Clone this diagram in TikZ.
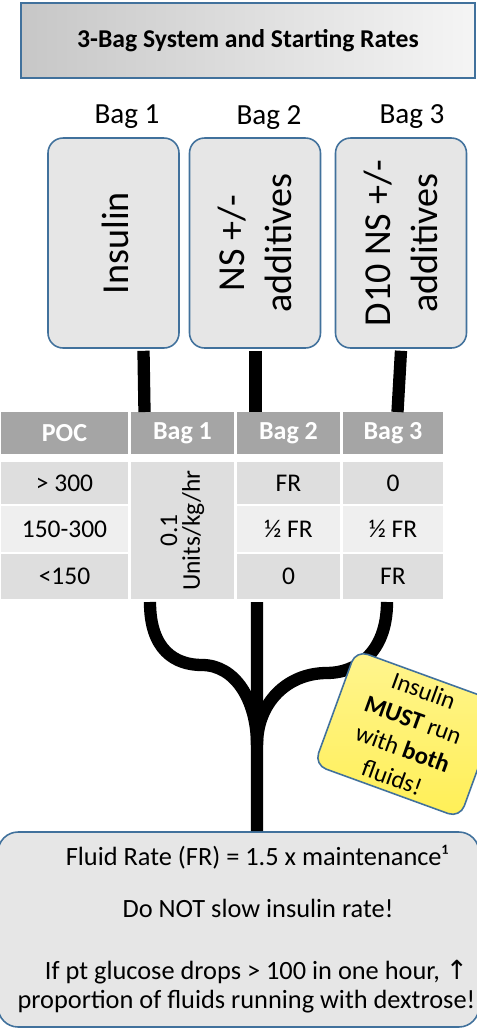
\documentclass[tikz,border=0pt]{standalone}
\usepackage{fontspec}
\setmainfont{Carlito}
\newfontfamily\symbolfont{DejaVu Sans}
\usetikzlibrary{calc}

\begin{document}
\begin{tikzpicture}[x=0.02cm, y=-0.02cm, % one unit is one pixel of the sketch
    tube/.style={line width=7pt},
    bluebox/.style={draw=bagblue, line width=0.9pt},
    titlebox/.style={bluebox, left color=black!22, right color=black!4, minimum width=9.08cm, minimum height=1.5cm, font=\fontsize{14.6}{16}\bfseries\selectfont},
    baglabel/.style={anchor=base, font=\fontsize{16.6}{20}\selectfont},
    bagbox/.style={bluebox, rounded corners=0.3cm, fill=baggray, minimum width=2.62cm, minimum height=4.2cm},
    bagtext/.style={rotate=90, align=center, font=\fontsize{21.7}{26.6}\selectfont},
    cell/.style={inner sep=0pt, outer sep=0pt, font=\fontsize{14.5}{13}\selectfont},
    headcell/.style={cell, fill=headgray, text=white, minimum height=0.84cm, font=\fontsize{14.8}{15}\bfseries\selectfont},
    fluidtext/.style={anchor=base, font=\fontsize{15}{16}\selectfont},
    note/.style={bluebox, rounded corners=0.25cm, top color=noteyl!50!white, middle color=noteyl, bottom color=noteyl!75!white, minimum width=3.1cm, minimum height=2.44cm, align=center, inner sep=0pt, font=\fontsize{14}{17.5}\selectfont},
  ]
    % Define colors
    \definecolor{bagblue}{RGB}{65,113,156}
    \definecolor{baggray}{RGB}{230,230,230}
    \definecolor{headgray}{RGB}{165,165,165}
    \definecolor{rowdark}{RGB}{222,222,222}
    \definecolor{rowlight}{RGB}{239,239,239}
    \definecolor{noteyl}{RGB}{255,234,30}

    \useasboundingbox (0,0) rectangle (477,1029);

    % Title
    \node[titlebox] (title) at (248,40.5) {3-Bag System and Starting Rates};

    % The three bags
    \foreach \n/\x/\lx/\ly in {1/113.5/127/123, 2/255/269/124, 3/401/412/123} {
        \node[baglabel] (lbl\n) at (\lx,\ly) {Bag \n};
        \node[bagbox] (bag\n) at (\x,243) {};
    }
    \node[bagtext] (bagtxt1) at ($(bag1.center)+(1.5,0)$) {Insulin};
    \node[bagtext] (bagtxt2) at (bag2.center) {NS +/-\\additives};
    \node[bagtext] (bagtxt3) at (bag3.center) {D10 NS +/-\\additives};

    % Table header
    \foreach \name/\x/\w/\txt in {pocH/64.5/2.54/POC, b1H/182.5/2.06/Bag 1, b2H/288.5/2.06/Bag 2, b3H/393/2.0/Bag 3} {
        \node[headcell, minimum width=\w cm] (\name) at (\x,433) {\txt};
    }

    % Table rows
    \foreach \r/\y/\h/\col/\poc/\two/\three in {r1/483/0.84/rowdark/> 300/FR/0, r2/529/0.91/rowlight/150-300/½ FR/½ FR, r3/576.5/0.9/rowdark/<150/0/FR} {
        \node[cell, fill=\col, minimum width=2.54cm, minimum height=\h cm] (\r-poc) at (64.5,\y) {\poc};
        \node[cell, fill=\col, minimum width=2.06cm, minimum height=\h cm] (\r-b2) at (288.5,\y) {\two};
        \node[cell, fill=\col, minimum width=2.0cm, minimum height=\h cm] (\r-b3) at (393,\y) {\three};
    }
    \node[cell, fill=rowdark, minimum width=2.06cm, minimum height=2.74cm] (b1cell) at (182.5,530.5) {};
    \node[cell, rotate=90, align=center] (b1txt) at (b1cell.center) {0.1\\Units/kg/hr};

    % Bottom box
    \node[bluebox, rounded corners=0.4cm, fill=baggray, minimum width=9.62cm, minimum height=3.9cm] (fluidbox) at (238.5,929.5) {};
    \node[fluidtext] (frate) at (257,865) {Fluid Rate (FR) = 1.5 x maintenance¹};
    \node[fluidtext] (noslow) at (258,917) {Do NOT slow insulin rate!};
    \node[fluidtext] (drop1) at (256.5,979) {If pt glucose drops > 100 in one hour, {\symbolfont ↑}};
    \node[fluidtext] (drop2) at (246.5,1008) {proportion of fluids running with dextrose!};

    % Tubes from the bags to the table
    \draw[tube] ($(bag1.south)+(30,2)$) -- ($(b1H.north)+(-38,0)$);
    \draw[tube] ($(bag2.south)+(0.5,2)$) -- ($(b2H.north)+(-33,0)$);
    \draw[tube] ($(bag3.south)+(0,2)$) -- ($(b3H.north)+(4.5,0)$);

    % Tubes joining below the table
    \coordinate (lbend) at (202,665);
    \coordinate (rbend) at (327,673);
    \coordinate (merge) at (257,745);
    \draw[tube] ($(b1cell.south)+(-32.5,3)$) .. controls +(0,48) and +(-27,0) .. (lbend)
        .. controls +(33,0) and +(0,-45) .. (merge);
    \draw[tube] ($(r3-b3.south)+(-6,3)$) .. controls +(0,52) and +(28,0) .. (rbend)
        .. controls +(-40,0) and +(0,-42) .. (merge);
    \draw[tube] ($(r3-b2.south)+(-31.5,3)$) -- ($(fluidbox.north)+(18.5,0)$);

    % Sticky note
    \node[note, rotate=-20] (warn) at (408,734) {Insulin\\\textbf{MUST} run\\with \textbf{both}\\fluids!};

\end{tikzpicture}
\end{document}
